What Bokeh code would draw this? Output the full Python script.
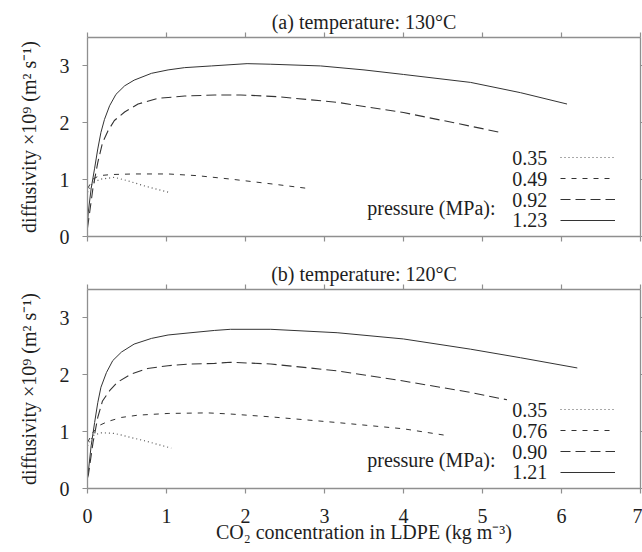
from bokeh.plotting import figure
from bokeh.models import (Range1d, LinearAxis, FixedTicker, Label, Legend,
                          LegendItem, Grid)
from bokeh.layouts import column
from bokeh.embed import file_html
from bokeh.resources import INLINE

FONT = "Liberation Serif"
TXT = "#1e1e1e"
AXC = "#8f8f8f"

x_ticks = [0, 1, 2, 3, 4, 5, 6, 7]
y_ticks = [0, 1, 2, 3]

# ---- panel (a): 130 C ----
a_title = "(a) temperature: 130°C"
a_labels = ["0.35", "0.49", "0.92", "1.23"]
a_x_035 = [0.0, 0.07, 0.17, 0.34, 0.51, 0.72, 1.02]
a_y_035 = [0.78, 0.95, 1.01, 1.04, 0.98, 0.89, 0.78]
a_x_049 = [0.0, 0.07, 0.15, 0.30, 0.59, 1.02, 1.39, 1.81, 2.36, 2.82]
a_y_049 = [0.84, 1.01, 1.07, 1.09, 1.10, 1.10, 1.07, 1.01, 0.92, 0.84]
a_x_092 = [0.0, 0.01, 0.068, 0.13, 0.19, 0.26, 0.34, 0.47, 0.64, 0.89, 1.23, 1.61, 1.94, 2.4, 3.16, 4.0, 4.64, 5.23]
a_y_092 = [0.15, 0.25, 0.84, 1.30, 1.65, 1.86, 2.04, 2.19, 2.33, 2.43, 2.47, 2.49, 2.49, 2.46, 2.36, 2.18, 2.00, 1.83]
a_x_123 = [0.0, 0.01, 0.046, 0.089, 0.13, 0.17, 0.215, 0.28, 0.36, 0.47, 0.59, 0.81, 1.02, 1.23, 1.57, 2.02, 2.32, 2.95, 3.5, 4.0, 4.85, 5.48, 6.07]
a_y_123 = [0.20, 0.43, 0.84, 1.19, 1.54, 1.83, 2.06, 2.30, 2.50, 2.65, 2.75, 2.87, 2.93, 2.97, 3.00, 3.04, 3.03, 3.00, 2.93, 2.85, 2.71, 2.53, 2.33]

# ---- panel (b): 120 C ----
b_title = "(b) temperature: 120°C"
b_labels = ["0.35", "0.76", "0.90", "1.21"]
b_x_035 = [0.0, 0.07, 0.17, 0.34, 0.51, 0.72, 1.06]
b_y_035 = [0.75, 0.93, 0.98, 0.97, 0.91, 0.84, 0.71]
b_x_076 = [0.0, 0.07, 0.15, 0.26, 0.43, 0.64, 1.02, 1.52, 1.81, 2.32, 3.16, 4.0, 4.51]
b_y_076 = [0.81, 0.99, 1.11, 1.18, 1.25, 1.29, 1.32, 1.33, 1.31, 1.26, 1.16, 1.05, 0.94]
b_x_090 = [0.0, 0.01, 0.07, 0.13, 0.19, 0.28, 0.38, 0.55, 0.76, 1.02, 1.31, 1.61, 1.81, 2.32, 3.16, 4.0, 4.85, 5.31]
b_y_090 = [0.19, 0.23, 0.81, 1.25, 1.54, 1.72, 1.87, 2.01, 2.11, 2.16, 2.19, 2.20, 2.22, 2.19, 2.07, 1.89, 1.69, 1.56]
b_x_121 = [0.0, 0.01, 0.046, 0.09, 0.13, 0.17, 0.24, 0.32, 0.43, 0.59, 0.81, 1.02, 1.31, 1.61, 1.81, 2.32, 3.16, 4.0, 4.85, 5.48, 6.2]
b_y_121 = [0.22, 0.29, 0.75, 1.16, 1.51, 1.78, 2.04, 2.25, 2.40, 2.54, 2.64, 2.70, 2.74, 2.78, 2.80, 2.80, 2.74, 2.63, 2.45, 2.30, 2.12]

styles = [
    dict(line_dash="1 3", line_color="#555555", line_width=1.2),
    dict(line_dash="5 6", line_color="#333333", line_width=1),
    dict(line_dash="10 5", line_color="#333333", line_width=1.1),
    dict(line_dash="solid", line_color="#333333", line_width=1),
]


def style_axis(ax, ticks, show_labels, tick_out=5):
    ax.ticker = FixedTicker(ticks=ticks)
    ax.axis_line_color = AXC
    ax.axis_line_width = 1.3
    ax.major_tick_line_color = AXC
    ax.major_tick_line_width = 1.2
    ax.major_tick_in = 0
    ax.major_tick_out = tick_out
    ax.minor_tick_line_color = None
    ax.axis_label_text_font = FONT
    ax.axis_label_text_font_style = "normal"
    ax.axis_label_text_font_size = "20px"
    ax.axis_label_text_color = TXT
    ax.major_label_text_font = FONT
    if show_labels:
        ax.major_label_text_font_size = "20px"
        ax.major_label_text_color = TXT
    else:
        ax.major_label_text_font_size = "0px"
        ax.major_label_text_color = None
        ax.major_label_standoff = 0


def make_panel(title, series, labels, show_x, height, top, bottom):
    p = figure(width=642, height=height, x_range=Range1d(0, 7), y_range=Range1d(0, 3.5),
               output_backend="svg", toolbar_location=None, title=title,
               x_axis_location=None, y_axis_location=None,
               min_border_left=87, min_border_right=2,
               min_border_top=top, min_border_bottom=bottom)
    p.outline_line_color = None
    p.background_fill_color = "white"
    p.border_fill_color = "white"
    for r in list(p.center):
        if isinstance(r, Grid):
            r.visible = False

    p.title.align = "center"
    p.title.text_font = FONT
    p.title.text_font_size = "20px"
    p.title.text_font_style = "normal"
    p.title.text_color = TXT
    p.title.standoff = 0

    left = LinearAxis(axis_label="diffusivity ×10⁹ (m² s⁻¹)")
    style_axis(left, y_ticks, True)
    left.major_label_standoff = 13
    left.axis_label_standoff = 17
    p.add_layout(left, "left")

    right = LinearAxis()
    style_axis(right, y_ticks, False, tick_out=2)
    p.add_layout(right, "right")

    top_ax = LinearAxis()
    style_axis(top_ax, x_ticks, False)
    p.add_layout(top_ax, "above")

    if show_x:
        below = LinearAxis(axis_label="CO₂ concentration in LDPE (kg m⁻³)")
        style_axis(below, x_ticks, True)
        below.major_label_standoff = 15
        below.axis_label_standoff = -5
    else:
        below = LinearAxis()
        style_axis(below, x_ticks, False)
    p.add_layout(below, "below")

    items = []
    for (xs, ys), st in zip(series, styles):
        r = p.line(xs, ys, **st)
        items.append(LegendItem(label=" ", renderers=[r]))

    leg = Legend(items=items, location=(473, 6), glyph_width=55, glyph_height=20,
                 label_height=20, label_width=0, spacing=1, padding=0, margin=0,
                 border_line_color=None, background_fill_alpha=0,
                 label_text_font_size="1px", label_standoff=0)
    p.add_layout(leg)

    row_y = [1.38, 1.01, 0.65, 0.29]
    for lab, yy in zip(labels, row_y):
        p.add_layout(Label(x=5.82, y=yy, text=lab, text_align="right",
                           text_baseline="middle", text_font=FONT,
                           text_font_size="20px", text_color=TXT))
    p.add_layout(Label(x=5.165, y=0.50, text="pressure (MPa):", text_align="right",
                       text_baseline="middle", text_font=FONT,
                       text_font_size="20px", text_color=TXT))
    return p


p1 = make_panel(a_title,
                [(a_x_035, a_y_035), (a_x_049, a_y_049), (a_x_092, a_y_092), (a_x_123, a_y_123)],
                a_labels, False, 250, 37, 14)
p2 = make_panel(b_title,
                [(b_x_035, b_y_035), (b_x_076, b_y_076), (b_x_090, b_y_090), (b_x_121, b_y_121)],
                b_labels, True, 302, 39, 64)

layout = column(p1, p2, spacing=0)
open("out.html", "w").write(file_html(layout, INLINE))
